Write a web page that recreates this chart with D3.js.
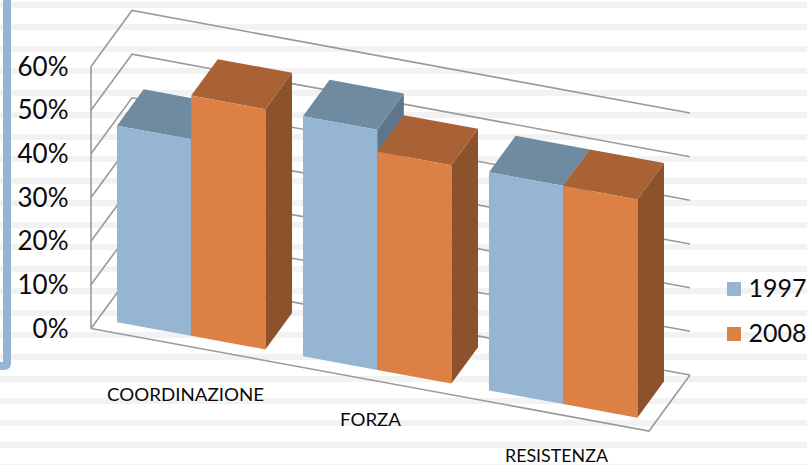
<!DOCTYPE html>
<html>
<head>
<meta charset="utf-8">
<script src="https://cdn.jsdelivr.net/npm/d3@7"></script>
<style>
html,body{margin:0;padding:0;background:#fff;overflow:hidden}
svg{display:block}
text{font-family:Lato,"Open Sans",sans-serif;fill:#0a0a0a}
</style>
</head>
<body>
<svg id="chart" width="807" height="465"></svg>
<script>
// Chart data
const categories = ["COORDINAZIONE", "FORZA", "RESISTENZA"];
const seriesNames = ["1997", "2008"];
const values1997 = [0.45, 0.55, 0.50];
const values2008 = [0.55, 0.50, 0.50];
const yTicks = [0, 0.1, 0.2, 0.3, 0.4, 0.5, 0.6];

const seriesColors = {
  "1997": {front: "#95b5d3", top: "#6f8ba1", side: "#5e768c"},
  "2008": {front: "#dd8045", top: "#a86235", side: "#8c522c"}
};
const gridColor = "#9a9a9a";

const svg = d3.select("#chart");

// Stripes of the slide background
const stripes = d3.range(2, 465, 22);
svg.append("g").selectAll("rect").data(stripes).join("rect")
  .attr("x", 0).attr("y", d => d).attr("width", 807).attr("height", 6).attr("fill", "#f2f2f2");

// Slide accent frame on the left
svg.append("path")
  .attr("d", "M7,0 V363 Q7,366 4,366 H0")
  .attr("fill", "none").attr("stroke", "#95b5d3").attr("stroke-width", 8);

// Oblique projection: u runs along the categories, d into the depth, v upward
const origin = [91, 328.5];
const uVec = [558, 102.5];
const dVec = [41, -56];
const vScale = d3.scaleLinear().domain([0, 0.6]).range([0, 262]);
const project = (u, d, v) => [
  origin[0] + u * uVec[0] + d * dVec[0],
  origin[1] + u * uVec[1] + d * dVec[1] - vScale(v)
];
const line = d3.line();

// Walls and floor
const grid = svg.append("g").attr("fill", "none").attr("stroke", gridColor).attr("stroke-width", 1.6);
grid.append("path").attr("d", line([project(0, 0, 0.6), project(0, 0, 0)]));
grid.selectAll("path.level").data(yTicks).join("path").attr("class", "level")
  .attr("d", v => line([project(0, 0, v), project(0, 1, v), project(1, 1, v)]));
grid.append("path").attr("d", line([project(0, 0, 0), project(1, 0, 0), project(1, 1, 0)]));

// Bars
const groupScale = d3.scaleBand().domain(categories).range([0, 1]);
const serBand = d3.scaleBand().domain(seriesNames).range([0.0337, 1 / 3 - 0.0337]);
const depth0 = 0.175, depth1 = 0.825;

const rows = [];
categories.forEach((c, i) => {
  rows.push({cat: c, ser: "1997", val: values1997[i]});
  rows.push({cat: c, ser: "2008", val: values2008[i]});
});

const bars = svg.append("g").selectAll("g").data(rows).join("g");
const u0 = r => groupScale(r.cat) + serBand(r.ser);
const u1 = r => u0(r) + serBand.bandwidth();

bars.append("path").attr("fill", r => seriesColors[r.ser].side).attr("d", r => line([
  project(u1(r), depth0, 0), project(u1(r), depth1, 0),
  project(u1(r), depth1, r.val), project(u1(r), depth0, r.val)
]) + "Z");
bars.append("path").attr("fill", r => seriesColors[r.ser].top).attr("d", r => line([
  project(u0(r), depth0, r.val), project(u1(r), depth0, r.val),
  project(u1(r), depth1, r.val), project(u0(r), depth1, r.val)
]) + "Z");
bars.append("path").attr("fill", r => seriesColors[r.ser].front).attr("d", r => line([
  project(u0(r), depth0, 0), project(u1(r), depth0, 0),
  project(u1(r), depth0, r.val), project(u0(r), depth0, r.val)
]) + "Z");

// Value axis labels
svg.append("g").selectAll("text").data(yTicks).join("text")
  .attr("x", 68.5).attr("y", v => project(0, 0, v)[1] + 2.5)
  .attr("text-anchor", "end").attr("dominant-baseline", "middle")
  .attr("font-size", 26)
  .text(d3.format(".0%"));

// Category labels
const labelPos = [[185.5, 401], [370.5, 426], [556.5, 462]];
const labelWidths = [157, 61, 103];
svg.append("g").selectAll("text").data(categories).join("text")
  .attr("x", (c, i) => labelPos[i][0]).attr("y", (c, i) => labelPos[i][1])
  .attr("text-anchor", "middle").attr("font-size", 18)
  .attr("textLength", (c, i) => labelWidths[i]).attr("lengthAdjust", "spacingAndGlyphs")
  .text(c => c);

// Legend
const legend = svg.append("g").selectAll("g").data(seriesNames).join("g")
  .attr("transform", (s, i) => `translate(727,${282 + i * 45})`);
legend.append("rect").attr("width", 14).attr("height", 14)
  .attr("fill", s => seriesColors[s].front);
legend.append("text").attr("x", 21.5).attr("y", 14.5).attr("font-size", 25).text(s => s);
</script>
</body>
</html>
